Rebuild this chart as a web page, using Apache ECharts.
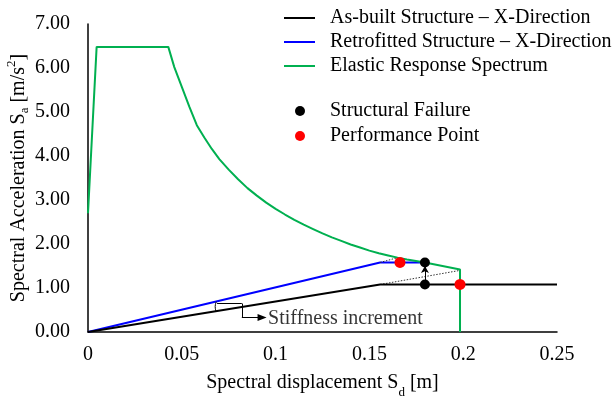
<!DOCTYPE html>
<html>
<head>
<meta charset="utf-8">
<script src="https://cdn.jsdelivr.net/npm/echarts@6/dist/echarts.min.js"></script>
<style>
html,body{margin:0;padding:0;background:#fff;}
#chart{width:616px;height:396px;}
</style>
</head>
<body>
<div id="chart"></div>
<script>
// ---- data ----
const xTicks = [0, 0.05, 0.1, 0.15, 0.2, 0.25];
const yTicks = [0, 1, 2, 3, 4, 5, 6, 7];

const spectrumSd = [0, 0.0046, 0.0428, 0.046, 0.050, 0.054, 0.058, 0.062, 0.066, 0.070, 0.075, 0.080, 0.085, 0.090, 0.095, 0.100, 0.105, 0.110, 0.115, 0.120, 0.125, 0.130, 0.135, 0.140, 0.145, 0.150, 0.155, 0.160, 0.165, 0.170, 0.1796, 0.1983, 0.1983];
const spectrumSa = [2.70, 6.48, 6.48, 6.02, 5.57, 5.12, 4.70, 4.42, 4.16, 3.93, 3.69, 3.47, 3.27, 3.10, 2.94, 2.80, 2.67, 2.55, 2.44, 2.34, 2.24, 2.15, 2.07, 1.99, 1.92, 1.85, 1.79, 1.74, 1.69, 1.65, 1.58, 1.42, 0];

const asBuiltSd = [0, 0.1557, 0.25];
const asBuiltSa = [0, 1.08, 1.08];

const retroSd = [0, 0.1557, 0.1796];
const retroSa = [0, 1.58, 1.58];

const failureSd = [0.1796, 0.1796];
const failureSa = [1.58, 1.08];

const perfSd = [0.1663, 0.1983];
const perfSa = [1.58, 1.08];

// dotted extensions of initial stiffness up to the spectrum
const retroExtSd = [0.1557, 0.1650];
const retroExtSa = [1.58, 1.69];
const asBuiltExtSd = [0.1557, 0.1983];
const asBuiltExtSa = [1.08, 1.40];

// up arrow between failure points
const upArrowSd = [0.1796, 0.1796];
const upArrowSa = [1.12, 1.50];

// stiffness increment annotation (arc + bent leader)
const arcSd = [0.0684, 0.0678, 0.0682];
const arcSa = [0.69, 0.58, 0.47];
const leaderSd = [0.0688, 0.0820, 0.0820, 0.0928];
const leaderSa = [0.647, 0.647, 0.328, 0.328];
const annotText = 'Stiffness increment';
const annotSd = 0.0960;
const annotSa = 0.31;

const zip = (a, b) => a.map((v, i) => [v, b[i]]);
const FONT = 'Liberation Serif, Times New Roman, serif';

const chart = echarts.init(document.getElementById('chart'));

const leaderPts = zip(leaderSd, leaderSa);
const leaderLines = [];
for (let i = 0; i < leaderPts.length - 1; i++) {
  const last = i === leaderPts.length - 2;
  leaderLines.push([
    { coord: leaderPts[i], symbol: 'none' },
    { coord: leaderPts[i + 1], symbol: last ? 'triangle' : 'none', symbolSize: last ? [7, 9] : 0, symbolRotate: last ? -90 : 0 }
  ]);
}
const arrowPts = zip(upArrowSd, upArrowSa);

chart.setOption({
  animation: false,
  backgroundColor: '#fff',
  textStyle: { fontFamily: FONT },
  grid: { left: 88, right: 59, top: 24, bottom: 64, containLabel: false, outerBoundsMode: 'none' },
  legend: [
    {
      data: ['As-built Structure – X-Direction', 'Retrofitted Structure – X-Direction', 'Elastic Response Spectrum'],
      orient: 'vertical', left: 284, top: 8, itemGap: 4, padding: 0,
      icon: 'rect', itemWidth: 31, itemHeight: 2,
      textStyle: { fontFamily: FONT, fontSize: 20, color: '#000', padding: [0, 0, 0, 10] },
      selectedMode: false
    },
    {
      data: ['Structural Failure', 'Performance Point'],
      orient: 'vertical', left: 295, top: 101, itemGap: 5, padding: 0,
      icon: 'circle', itemWidth: 10, itemHeight: 10,
      textStyle: { fontFamily: FONT, fontSize: 20, color: '#000', padding: [0, 0, 0, 20] },
      selectedMode: false
    }
  ],
  xAxis: {
    type: 'value', min: xTicks[0], max: xTicks[xTicks.length - 1], interval: 0.05,
    axisLine: { show: true, lineStyle: { color: '#000', width: 1.5 } },
    axisTick: { show: false },
    splitLine: { show: false },
    axisLabel: { fontFamily: FONT, fontSize: 20, color: '#000', margin: 13,
      formatter: v => String(+v.toFixed(2)) },
    name: 'Spectral displacement S{sub|d} [m]',
    nameLocation: 'middle', nameGap: 41, nameMoveOverlap: false,
    nameTextStyle: { fontFamily: FONT, fontSize: 20, color: '#000',
      rich: { sub: { fontFamily: FONT, fontSize: 13, verticalAlign: 'bottom', padding: [0, 0, -6, 0] } } }
  },
  yAxis: {
    type: 'value', min: yTicks[0], max: yTicks[yTicks.length - 1], interval: 1,
    axisLine: { show: true, lineStyle: { color: '#000', width: 1.5 } },
    axisTick: { show: false },
    splitLine: { show: false },
    axisLabel: { fontFamily: FONT, fontSize: 20, color: '#000', margin: 18,
      formatter: v => v.toFixed(2) },
    name: 'Spectral Acceleration S{sub|a} [m/s{sup|2}]',
    nameLocation: 'middle', nameGap: 59, nameRotate: 90, nameMoveOverlap: false,
    nameTextStyle: { fontFamily: FONT, fontSize: 20, color: '#000',
      rich: {
        sub: { fontFamily: FONT, fontSize: 13, verticalAlign: 'bottom', padding: [0, 0, -2, 0] },
        sup: { fontFamily: FONT, fontSize: 13, verticalAlign: 'top', padding: [-4, 0, 0, 0] }
      } }
  },
  series: [
    {
      name: 'Elastic Response Spectrum', type: 'line', data: zip(spectrumSd, spectrumSa),
      showSymbol: false, symbol: 'none', lineStyle: { color: '#00B050', width: 2 }, itemStyle: { color: '#00B050' }, z: 3
    },
    {
      name: 'As-built Structure – X-Direction', type: 'line', data: zip(asBuiltSd, asBuiltSa),
      showSymbol: false, symbol: 'none', lineStyle: { color: '#000', width: 2 }, itemStyle: { color: '#000' }, z: 3
    },
    {
      name: 'Retrofitted Structure – X-Direction', type: 'line', data: zip(retroSd, retroSa),
      showSymbol: false, symbol: 'none', lineStyle: { color: '#0000FF', width: 2 }, itemStyle: { color: '#0000FF' }, z: 2
    },
    {
      name: 'retroExt', type: 'line', data: zip(retroExtSd, retroExtSa), symbol: 'none',
      lineStyle: { color: '#333', width: 1, type: [1.5, 1.5] }, z: 2, silent: true
    },
    {
      name: 'asBuiltExt', type: 'line', data: zip(asBuiltExtSd, asBuiltExtSa), symbol: 'none',
      lineStyle: { color: '#333', width: 1, type: [1.5, 1.5] }, z: 2, silent: true
    },
    {
      name: 'arc', type: 'line', data: zip(arcSd, arcSa), symbol: 'none', smooth: true,
      lineStyle: { color: '#000', width: 1 }, z: 2, silent: true,
      markLine: {
        silent: true, animation: false,
        label: { show: false },
        lineStyle: { color: '#000', width: 1, type: 'solid' },
        data: leaderLines.concat([
          [ { coord: arrowPts[0], symbol: 'none' },
            { coord: arrowPts[1], symbol: 'arrow', symbolSize: [6, 7] } ]
        ])
      }
    },
    {
      name: 'annot', type: 'scatter', data: [[annotSd, annotSa]], symbolSize: 0, silent: true,
      label: { show: true, position: 'right', distance: 0, formatter: annotText,
        fontFamily: FONT, fontSize: 20, color: '#000' }
    },
    {
      name: 'Structural Failure', type: 'scatter', data: zip(failureSd, failureSa),
      symbol: 'circle', symbolSize: 10, itemStyle: { color: '#000', opacity: 1 }, z: 5
    },
    {
      name: 'Performance Point', type: 'scatter', data: zip(perfSd, perfSa),
      symbol: 'circle', symbolSize: 11, itemStyle: { color: '#FF0000', opacity: 1 }, z: 5
    }
  ]
});
</script>
</body>
</html>
